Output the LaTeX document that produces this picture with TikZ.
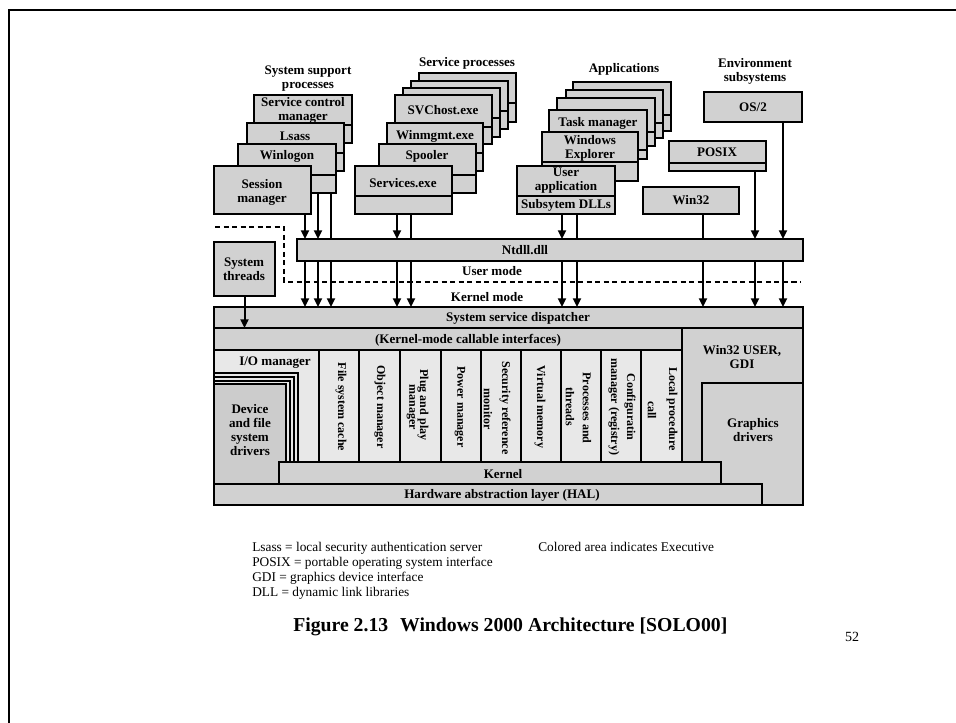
\documentclass[tikz,border=0pt]{standalone}
\usepackage{fontspec}
\setmainfont{Liberation Serif}
\usetikzlibrary{arrows.meta,fit}
\definecolor{midgray}{gray}{0.82}
\definecolor{lightgray2}{gray}{0.91}
\definecolor{devgray}{gray}{0.80}
\newcommand\pbx[6]{\node[box,fit={(#2,#3)(#4,#5)}] (#1) {};\draw[ln] (#1.west |- 0,#6) -- (#1.east |- 0,#6);}
\begin{document}
\begin{tikzpicture}[x=0.75pt,y=-0.75pt,
  box/.style={draw=black,line width=1.5pt,fill=midgray,inner sep=0pt,outer sep=0pt},
  lbox/.style={box,fill=lightgray2},
  lbl/.style={font=\fontsize{9.8}{10.5}\selectfont\bfseries,align=center,inner sep=0pt},
  hdr/.style={font=\fontsize{9.8}{10.5}\selectfont\bfseries,align=center,inner sep=0pt},
  rot/.style={font=\fontsize{9}{10}\selectfont\bfseries,rotate=-90,inner sep=0pt},
  ln/.style={line width=1.5pt},
  arr/.style={line width=1.5pt,-{Triangle[length=6.5pt,width=6pt]}},
  leg/.style={font=\fontsize{10}{11}\selectfont,anchor=west,inner sep=0pt,text height=7pt,text depth=2pt},
  dashline/.style={line width=2.2pt,dash pattern=on 3.8pt off 2.6pt}
]
\useasboundingbox (0,0) rectangle (956,723);
% frame
\draw[line width=2.2pt] (9,723) -- (9,10) -- (956,10);

% headers
\node[hdr] (hsys) at (308,79) {System support\\processes};
\node[hdr] (hsvc) at (467,63) {Service processes};
\node[hdr] (happ) at (624,69) {Applications};
\node[hdr] (henv) at (755,71) {Environment\\subsystems};

% system support processes
\pbx{scm}{254}{95}{352}{143}{125}
\node[lbl] (scmT) at (303,110) {Service control\\manager};
\pbx{lsass}{247}{123}{344}{171}{153}
\node[lbl] (lsassT) at (295,136) {Lsass};
\pbx{winlogon}{238}{144}{336}{193}{175}
\node[lbl] (winlogonT) at (287,156) {Winlogon};
\node[box,fit={(214,166)(311,214)}] (smgr) {};
\node[lbl] (smgrT) at (262,192) {Session\\manager};

% service processes
\pbx{svthree}{419}{73}{516}{122}{103}
\pbx{svtwo}{411}{81}{508}{129}{111}
\pbx{svone}{403}{88}{500}{137}{118}
\pbx{svchost}{395}{95}{492}{144}{127}
\node[lbl] (svchostT) at (443,110) {SVChost.exe};
\pbx{winmgmt}{387}{123}{483}{171}{153}
\node[lbl] (winmgmtT) at (435,136) {Winmgmt.exe};
\pbx{spooler}{379}{144}{476}{193}{175}
\node[lbl] (spoolerT) at (427,156) {Spooler};
\pbx{services}{355}{166}{452}{214}{196}
\node[lbl] (servicesT) at (403,183) {Services.exe};

% applications
\pbx{apthree}{573}{82}{671}{131}{115}
\pbx{aptwo}{566}{90}{663}{138}{123}
\pbx{apone}{557}{98}{655}{146}{132}
\pbx{task}{549}{110}{647}{159}{150}
\node[lbl] (taskT) at (598,123) {Task manager};
\pbx{explorer}{542}{132}{638}{181}{162}
\node[lbl] (explorerT) at (590,148) {Windows\\Explorer};
\pbx{userapp}{517}{166}{615}{214}{196}
\node[lbl] (userappT) at (566,181) {User\\application};
\node[lbl] (dllT) at (566,205) {Subsytem DLLs};

% environment subsystems
\node[box,fit={(704,92)(802,122)}] (os2) {};
\node[lbl] (os2T) at (753,107) {OS/2};
\pbx{posix}{669}{141}{766}{171}{163}
\node[lbl] (posixT) at (717,152) {POSIX};
\node[box,fit={(643,187)(739,214)}] (win32) {};
\node[lbl] (win32T) at (691,200) {Win32};

% system threads and ntdll
\node[box,fit={(214,242)(275,296)}] (sthr) {};
\node[lbl] (sthrT) at (244,269) {System\\threads};
\node[box,fit={(297,239)(803,261)}] (ntdll) {};
\node[lbl] (ntdllT) at (525,250) {Ntdll.dll};

% user / kernel mode boundary
\coordinate (dA) at (215,227);
\coordinate (dB) at (284,227);
\coordinate (dC) at (284,282);
\coordinate (dD) at (801,282);
\draw[dashline] (dA) -- (dB) -- (dC) -- (dD);
\node[lbl] (umode) at (492,271) {User mode};
\node[lbl] (kmode) at (487,297) {Kernel mode};

% kernel-mode block
\node[box,fit={(682,328)(803,505)}] (w32k) {};
\node[box,fit={(702,383)(803,505)}] (gfx) {};
\node[box,fit={(214,307)(803,328)}] (disp) {};
\node[box,fit={(214,328)(682,350)}] (kmci) {};
\node[lbox,fit={(214,350)(319,462)}] (io) {};
\foreach \a/\b [count=\i] in {319/359,359/400,400/441,441/481,481/521,521/561,561/601,601/641,641/682}
  \node[lbox,fit={(\a,350)(\b,462)}] (col\i) {};
\node[lbox,fit={(214,373)(298,470)}] (stA) {};
\node[lbox,fit={(214,377)(294,470)}] (stB) {};
\node[lbox,fit={(214,381)(290,470)}] (stC) {};
\node[box,fill=devgray,fit={(214,384)(286,484)}] (dev) {};
\node[box,fit={(279,462)(721,484)}] (kern) {};
\node[box,fit={(214,484)(762,505)}] (hal) {};

\node[lbl] (dispT) at (518,318) {System service dispatcher};
\node[lbl] (kmciT) at (468,340) {(Kernel-mode callable interfaces)};
\node[lbl] (ioT) at (275,363) {I/O manager};
\node[lbl] (devT) at (250,430) {Device\\and file\\system\\drivers};
\node[lbl] (w32kT) at (742,357) {Win32 USER,\\GDI};
\node[lbl] (gfxT) at (753,430) {Graphics\\drivers};
\node[lbl] (kernT) at (503,474) {Kernel};
\node[lbl] (halT) at (502,495) {Hardware abstraction layer (HAL)};

\node[rot] (c1) at (341,407) {File system cache};
\node[rot] (c2) at (380,407) {Object manager};
\node[rot] (c3a) at (423,405) {Plug and play};
\node[rot] (c3b) at (411,407) {manager};
\node[rot] (c4) at (460,407) {Power manager};
\node[rot] (c5a) at (505,408) {Security reference};
\node[rot] (c5b) at (488,409) {monitor};
\node[rot] (c6) at (540,407) {Virtual memory};
\node[rot] (c7a) at (587,408) {Processes and};
\node[rot] (c7b) at (570,407) {threads};
\node[rot] (c8a) at (630,407) {Configuratin};
\node[rot] (c8b) at (614,407) {manager (registry)};
\node[rot] (c9a) at (672,409) {Local procedure};
\node[rot] (c9b) at (652,410) {call};

% arrows to ntdll
\draw[arr] (smgr.south -| 305,0) -- (ntdll.north -| 305,0);
\draw[arr] (winlogon.south -| 318,0) -- (ntdll.north -| 318,0);
\draw[ln] (winlogon.south -| 331,0) -- (ntdll.north -| 331,0);
\draw[arr] (services.south -| 397,0) -- (ntdll.north -| 397,0);
\draw[ln] (services.south -| 411,0) -- (ntdll.north -| 411,0);
\draw[arr] (userapp.south -| 562,0) -- (ntdll.north -| 562,0);
\draw[ln] (userapp.south -| 577,0) -- (ntdll.north -| 577,0);
\draw[ln] (win32.south -| 703,0) -- (ntdll.north -| 703,0);
\draw[arr] (posix.south -| 755,0) -- (ntdll.north -| 755,0);
\draw[arr] (os2.south -| 783,0) -- (ntdll.north -| 783,0);
% arrows to dispatcher
\foreach \x in {305,318,331,397,411,562,577,703,755,783}
  \draw[arr] (ntdll.south -| \x,0) -- (disp.north -| \x,0);
\draw[arr] (sthr.south) -- (sthr.south |- disp.south);

% legend
\node[leg] (l1) at (252,548) {Lsass = local security authentication server};
\node[leg] (l2) at (252,563) {POSIX = portable operating system interface};
\node[leg] (l3) at (252,578) {GDI = graphics device interface};
\node[leg] (l4) at (252,593) {DLL = dynamic link libraries};
\node[leg] (l5) at (538,548) {Colored area indicates Executive};
\node[font=\fontsize{14.8}{16}\selectfont\bfseries,anchor=west,inner sep=0pt] (cap) at (293,627) {Figure 2.13\hspace{0.6em}Windows 2000 Architecture [SOLO00]};
\node[font=\fontsize{10.5}{12}\selectfont,inner sep=0pt] (pg) at (852,637) {52};
\end{tikzpicture}
\end{document}
